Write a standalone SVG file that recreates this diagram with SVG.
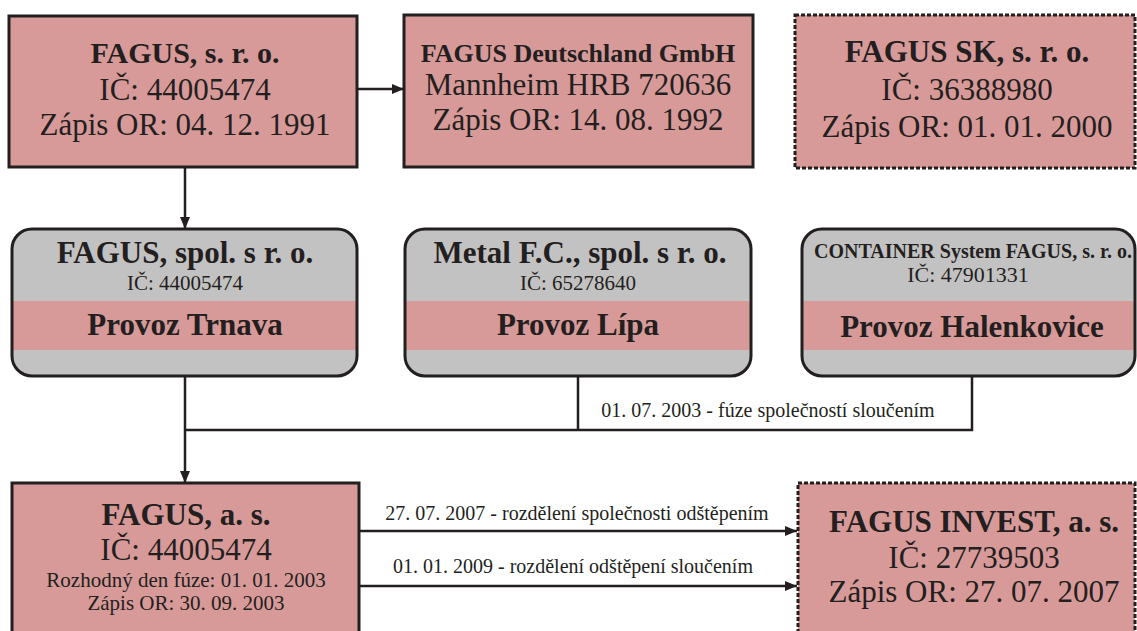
<svg xmlns="http://www.w3.org/2000/svg" width="1137" height="631" viewBox="0 0 1137 631">
<style>
.t{font-family:"Liberation Serif","Times New Roman",serif;fill:#231f20;text-anchor:middle}
.b{font-weight:bold}
.pink{fill:#d89a99}
.grey{fill:#c3c2c2}
.box{stroke:#231f20;stroke-width:3}
.dash{stroke:#231f20;stroke-width:3;stroke-dasharray:4 2}
.ol{fill:none;stroke:#231f20;stroke-width:3}
.ln{fill:none;stroke:#231f20;stroke-width:2.5}
</style>
<defs>
<marker id="ah" markerWidth="12" markerHeight="10" refX="12" refY="5" orient="auto" markerUnits="userSpaceOnUse">
<path d="M0,0 L12,5 L0,10 Z" fill="#231f20"/>
</marker>
</defs>
<rect width="1137" height="631" fill="#ffffff"/>
<g id="connectors">
<line class="ln" x1="357" y1="89" x2="404" y2="89" marker-end="url(#ah)"/>
<line class="ln" x1="185" y1="167" x2="185" y2="229" marker-end="url(#ah)"/>
<line class="ln" x1="185" y1="376" x2="185" y2="483" marker-end="url(#ah)"/>
<polyline class="ln" points="185,430 972,430 972,376"/>
<line class="ln" x1="578" y1="376" x2="578" y2="430"/>
<text class="t" x="768" y="417" font-size="20">01. 07. 2003 - fúze společností sloučením</text>
<line class="ln" x1="359" y1="531" x2="797" y2="531" marker-end="url(#ah)"/>
<line class="ln" x1="359" y1="586" x2="797" y2="586" marker-end="url(#ah)"/>
<text class="t" x="577" y="520" font-size="20">27. 07. 2007 - rozdělení společnosti odštěpením</text>
<text class="t" x="573" y="573" font-size="20">01. 01. 2009 - rozdělení odštěpení sloučením</text>
</g>
<g id="fagus-sro">
<rect class="pink box" x="9" y="16" width="348" height="151"/>
<text class="t b" x="185" y="63" font-size="30">FAGUS, s. r. o.</text>
<text class="t" x="185" y="100" font-size="31">IČ: 44005474</text>
<text class="t" x="185" y="135" font-size="31">Zápis OR: 04. 12. 1991</text>
</g>
<g id="fagus-de">
<rect class="pink box" x="404" y="15" width="349" height="152"/>
<text class="t b" x="578" y="62" font-size="26">FAGUS Deutschland GmbH</text>
<text class="t" x="578" y="95" font-size="31">Mannheim HRB 720636</text>
<text class="t" x="578" y="130" font-size="31">Zápis OR: 14. 08. 1992</text>
</g>
<g id="fagus-sk">
<rect class="pink dash" x="795" y="15" width="340" height="153"/>
<text class="t b" x="967" y="62" font-size="31">FAGUS SK, s. r. o.</text>
<text class="t" x="967" y="100" font-size="31">IČ: 36388980</text>
<text class="t" x="967" y="137" font-size="31">Zápis OR: 01. 01. 2000</text>
</g>
<g id="trnava">
<rect class="grey" x="12" y="229" width="345" height="147" rx="20"/>
<rect class="pink" x="12" y="301" width="345" height="49"/>
<rect class="ol" x="12" y="229" width="345" height="147" rx="20"/>
<text class="t b" x="185" y="263" font-size="31">FAGUS, spol. s r. o.</text>
<text class="t" x="185" y="290" font-size="21">IČ: 44005474</text>
<text class="t b" x="185" y="335" font-size="31">Provoz Trnava</text>
</g>
<g id="lipa">
<rect class="grey" x="405" y="229" width="346" height="147" rx="20"/>
<rect class="pink" x="405" y="301" width="346" height="49"/>
<rect class="ol" x="405" y="229" width="346" height="147" rx="20"/>
<text class="t b" x="580" y="263" font-size="31">Metal F.C., spol. s r. o.</text>
<text class="t" x="578" y="290" font-size="21">IČ: 65278640</text>
<text class="t b" x="578" y="335" font-size="31">Provoz Lípa</text>
</g>
<g id="halenkovice">
<rect class="grey" x="802" y="229" width="333" height="147" rx="20"/>
<rect class="pink" x="802" y="301" width="333" height="49"/>
<rect class="ol" x="802" y="229" width="333" height="147" rx="20"/>
<text class="t b" x="973" y="258" font-size="20">CONTAINER System FAGUS, s. r. o.</text>
<text class="t" x="968" y="282" font-size="22">IČ: 47901331</text>
<text class="t b" x="972" y="337" font-size="31">Provoz Halenkovice</text>
</g>
<g id="fagus-as">
<rect class="pink box" x="12" y="483" width="347" height="170"/>
<text class="t b" x="186" y="525" font-size="31">FAGUS, a. s.</text>
<text class="t" x="186" y="560" font-size="31">IČ: 44005474</text>
<text class="t" x="186" y="587" font-size="21">Rozhodný den fúze: 01. 01. 2003</text>
<text class="t" x="186" y="610" font-size="21">Zápis OR: 30. 09. 2003</text>
</g>
<g id="fagus-invest">
<rect class="pink dash" x="798" y="483" width="337" height="170"/>
<text class="t b" x="974" y="532" font-size="31">FAGUS INVEST, a. s.</text>
<text class="t" x="974" y="568" font-size="31">IČ: 27739503</text>
<text class="t" x="974" y="602" font-size="31">Zápis OR: 27. 07. 2007</text>
</g>
</svg>
